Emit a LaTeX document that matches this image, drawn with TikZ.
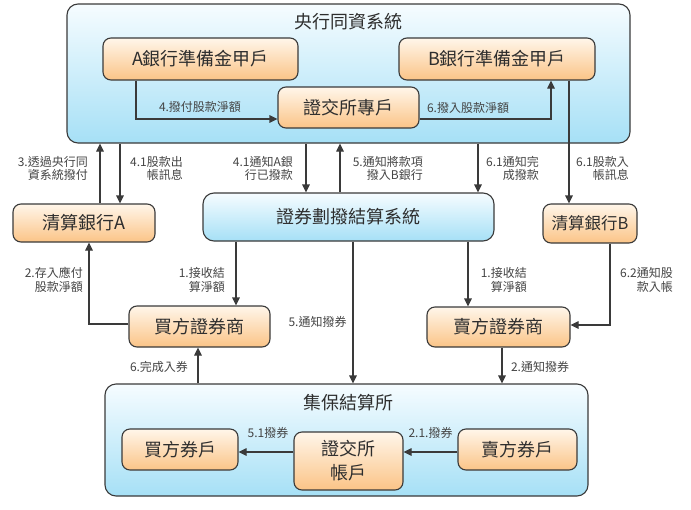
\documentclass[tikz,border=0pt]{standalone}
\usepackage{fontspec}
\setmainfont{Noto Sans CJK TC}
\usetikzlibrary{arrows.meta,calc}
\definecolor{edge}{HTML}{3A3A3A}
\definecolor{txt}{HTML}{2E2E2E}
\definecolor{ltxt}{HTML}{444444}
\definecolor{otop}{HTML}{FFF6EA}
\definecolor{obot}{HTML}{FBC487}
\definecolor{btop}{HTML}{F6FCFF}
\definecolor{bbot}{HTML}{A6E0F6}
\begin{document}
\begin{tikzpicture}[x=1pt,y=-1pt,
  box/.style={draw=edge,line width=1.1pt,rounded corners=8pt,inner sep=0pt,text=txt,
    font=\fontsize{18}{24}\selectfont,align=center},
  obox/.style={box,top color=otop,bottom color=obot},
  bbox/.style={box,top color=btop,bottom color=bbot},
  bigbox/.style={bbox,rounded corners=11pt},
  ttl/.style={text=txt,font=\fontsize{18}{22}\selectfont,inner sep=0pt},
  arr/.style={draw=edge,line width=1.1pt,-{Triangle[length=8pt,width=7.5pt]}},
  lbl/.style={font=\fontsize{12}{13.5}\selectfont,text=ltxt,inner sep=0pt,align=right}]
\useasboundingbox (0,0) rectangle (691,509);
% big containers
\node[bigbox,minimum width=563pt,minimum height=139pt] (cbc) at (348.5,73.5) {};
\node[ttl] (cbct) at (348,22) {央行同資系統};
\node[bigbox,minimum width=483pt,minimum height=112pt] (jb) at (346.5,440) {};
\node[ttl] (jbt) at (348,403) {集保結算所};
% boxes
\node[obox,minimum width=195pt,minimum height=42pt] (Abox) at (200.5,59) {A銀行準備金甲戶};
\node[obox,minimum width=196pt,minimum height=42pt] (Bbox) at (497,59) {B銀行準備金甲戶};
\node[obox,minimum width=141pt,minimum height=41pt] (exch) at (348.5,107.5) {證交所專戶};
\node[obox,minimum width=142pt,minimum height=38pt] (qA) at (84,223) {清算銀行A};
\node[bbox,rounded corners=11pt,minimum width=291pt,minimum height=48pt] (tdcc) at (348.5,217) {證券劃撥結算系統};
\node[obox,minimum width=94pt,minimum height=39pt,font=\fontsize{16.5}{22}\selectfont] (qB) at (590,223.5) {清算銀行B};
\node[obox,minimum width=141pt,minimum height=41pt] (buyer) at (199.5,326.5) {買方證券商};
\node[obox,minimum width=143pt,minimum height=40pt] (seller) at (498.5,327) {賣方證券商};
\node[obox,minimum width=116pt,minimum height=41pt] (bacct) at (180,449.5) {買方券戶};
\node[obox,minimum width=109pt,minimum height=58pt] (exacct) at (348.5,461) {證交所\\帳戶};
\node[obox,minimum width=119pt,minimum height=41pt] (sacct) at (517.5,449.5) {賣方券戶};
% helper coordinates
\coordinate (c4) at (136,119);
\coordinate (c6) at (551,119);
\coordinate (x100) at (100,0);
\coordinate (x120) at (120,0);
\coordinate (x306) at (306,0);
\coordinate (x340) at (340,0);
\coordinate (x478) at (478,0);
\coordinate (x569) at (569,0);
\coordinate (c2) at (89,324);
\coordinate (x236) at (236,0);
\coordinate (x353) at (353,0);
\coordinate (x198) at (198,0);
\coordinate (x468) at (468,0);
\coordinate (c62) at (610,325);
\coordinate (x502) at (502,0);
\coordinate (y452) at (0,452);
% connectors
\draw[arr] (Abox.south -| c4) |- (exch.west |- c4);
\draw[arr] (exch.east |- c6) -| (Bbox.south -| c6);
\draw[arr] (qA.north -| x100) -- (cbc.south -| x100);
\draw[arr] (cbc.south -| x120) -- (qA.north -| x120);
\draw[arr] (cbc.south -| x306) -- (tdcc.north -| x306);
\draw[arr] (tdcc.north -| x340) -- (cbc.south -| x340);
\draw[arr] (cbc.south -| x478) -- (tdcc.north -| x478);
\draw[arr] (Bbox.south -| x569) -- (qB.north -| x569);
\draw[arr] (buyer.west |- c2) -| (qA.south -| c2);
\draw[arr] (tdcc.south -| x236) -- (buyer.north -| x236);
\draw[arr] (tdcc.south -| x353) -- (jb.north -| x353);
\draw[arr] (jb.north -| x198) -- (buyer.south -| x198);
\draw[arr] (tdcc.south -| x468) -- (seller.north -| x468);
\draw[arr] (qB.south -| c62) |- (seller.east |- c62);
\draw[arr] (seller.south -| x502) -- (jb.north -| x502);
\draw[arr] (sacct.west |- y452) -- (exacct.east |- y452);
\draw[arr] (exacct.west |- y452) -- (bacct.east |- y452);
% labels
\node[lbl] (l4) at (200,107) {4.撥付股款淨額};
\node[lbl] (l6) at (468,108) {6.撥入股款淨額};
\node[lbl,anchor=east] (l3) at (88,168.5) {3.透過央行同\\資系統撥付};
\node[lbl,anchor=east] (l41a) at (183,168.5) {4.1股款出\\帳訊息};
\node[lbl,anchor=east] (l41b) at (293,168.5) {4.1通知A銀\\行已撥款};
\node[lbl,anchor=east] (l5a) at (423,168.5) {5.通知將款項\\撥入B銀行};
\node[lbl,anchor=east] (l61a) at (539,168.5) {6.1通知完\\成撥款};
\node[lbl,anchor=east] (l61b) at (629,168.5) {6.1股款入\\帳訊息};
\node[lbl,anchor=east] (l2a) at (83,280) {2.存入應付\\股款淨額};
\node[lbl,anchor=east] (l1a) at (225,280) {1.接收結\\算淨額};
\node[lbl,anchor=east] (l1b) at (527,280) {1.接收結\\算淨額};
\node[lbl,anchor=east] (l62) at (673,280) {6.2通知股\\款入帳};
\node[lbl] (l5b) at (317.5,322) {5.通知撥券};
\node[lbl] (l6b) at (159,367) {6.完成入券};
\node[lbl] (l2b) at (540,367) {2.通知撥券};
\node[lbl] (l51) at (268,433) {5.1撥券};
\node[lbl] (l21) at (430.5,433) {2.1.撥券};
\end{tikzpicture}
\end{document}
